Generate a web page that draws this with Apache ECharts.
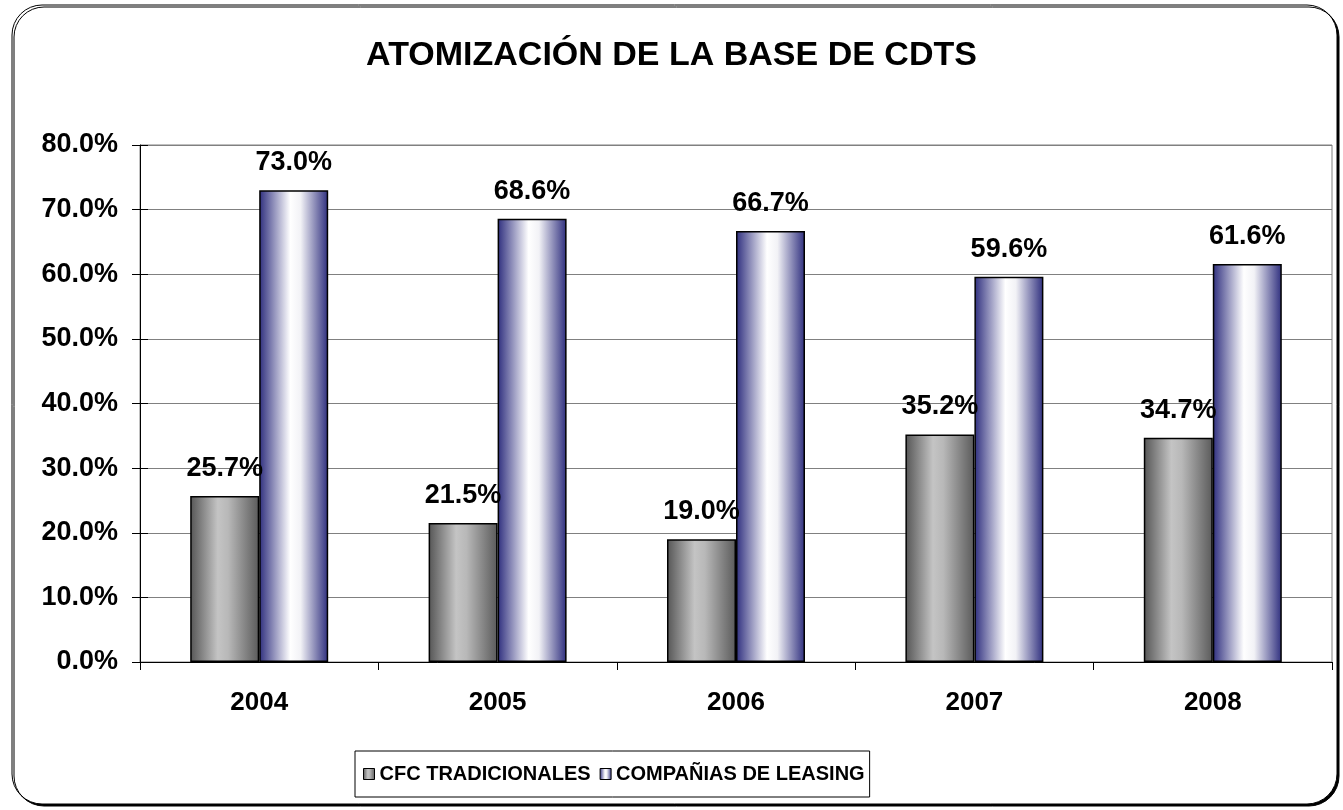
<!DOCTYPE html>
<html>
<head>
<meta charset="utf-8">
<script src="https://cdn.jsdelivr.net/npm/echarts@6/dist/echarts.min.js"></script>
<style>html,body{margin:0;padding:0;background:#fff}#c{width:1343px;height:810px}</style>
</head>
<body>
<div id="c"></div>
<script>
const categories = ['2004', '2005', '2006', '2007', '2008'];
const cfcTradicionales = [25.7, 21.5, 19.0, 35.2, 34.7];
const companiasLeasing = [73.0, 68.6, 66.7, 59.6, 61.6];
const seriesNames = ['CFC TRADICIONALES', 'COMPAÑIAS DE LEASING'];
const titleText = 'ATOMIZACIÓN DE LA BASE DE CDTS';

const FONT = '"Liberation Sans", Arial, sans-serif';
const chart = echarts.init(document.getElementById('c'));

const grayGrad = new echarts.graphic.LinearGradient(0, 0, 1, 0, [
  {offset: 0, color: '#555555'},
  {offset: 0.4, color: '#c4c4c4'},
  {offset: 0.55, color: '#b8b8b8'},
  {offset: 1, color: '#5a5a5a'}
]);
const blueGrad = new echarts.graphic.LinearGradient(0, 0, 1, 0, [
  {offset: 0, color: '#2e2e7e'},
  {offset: 0.45, color: '#ffffff'},
  {offset: 0.6, color: '#f2f2f6'},
  {offset: 1, color: '#2e2e7e'}
]);

const labelStyle = {
  show: true, position: 'top', distance: 14,
  fontFamily: FONT, fontWeight: 'bold', fontSize: 27, color: '#000',
  formatter: p => p.value.toFixed(1) + '%'
};

chart.setOption({
  animation: false,
  backgroundColor: '#fff',
  title: {
    text: titleText, left: 'center', top: 34,
    textStyle: {fontFamily: FONT, fontWeight: 'bold', fontSize: 34, color: '#000'}
  },
  graphic: [{
    type: 'rect', z: -1, silent: true,
    shape: {x: 12, y: 5, width: 1325, height: 799, r: 30},
    style: {fill: '#fff', stroke: '#000', lineWidth: 1, shadowColor: '#000', shadowOffsetX: 2, shadowOffsetY: 2, shadowBlur: 0}
  }],
  legend: {
    left: 355, top: 751,
    data: seriesNames,
    icon: 'rect',
    itemWidth: 11, itemHeight: 11, itemGap: 9,
    padding: [13, 5, 13, 8],
    borderColor: '#000', borderWidth: 1, backgroundColor: '#fff',
    textStyle: {fontFamily: FONT, fontWeight: 'bold', fontSize: 20, color: '#000'},
    itemStyle: {borderColor: '#000', borderWidth: 1}
  },
  grid: {
    left: 140, right: 11, top: 145, bottom: 148,
    show: true, borderColor: '#808080', borderWidth: 1
  },
  xAxis: {
    type: 'category', data: categories,
    axisLine: {lineStyle: {color: '#000', width: 1}},
    axisTick: {show: true, length: 8, lineStyle: {color: '#000'}},
    axisLabel: {margin: 28, fontFamily: FONT, fontWeight: 'bold', fontSize: 26, color: '#000'}
  },
  yAxis: [{
    type: 'value', min: 0, max: 80, interval: 10, position: 'left',
    axisLine: {show: true, lineStyle: {color: '#000', width: 1}},
    axisTick: {show: true, length: 8, lineStyle: {color: '#000'}},
    splitLine: {lineStyle: {color: '#808080', width: 1}},
    axisLabel: {margin: 22, fontFamily: FONT, fontWeight: 'bold', fontSize: 27, color: '#000',
      formatter: v => v.toFixed(1) + '%'}
  }, {
    type: 'value', min: 0, max: 80, interval: 10, position: 'left',
    axisLine: {show: false},
    axisTick: {show: true, inside: true, length: 8, lineStyle: {color: '#000'}},
    splitLine: {show: false},
    axisLabel: {show: false}
  }],
  series: [{
    name: seriesNames[0], type: 'bar', data: cfcTradicionales,
    barWidth: 69, barGap: '0%',
    itemStyle: {color: grayGrad, borderColor: '#000', borderWidth: 1.5},
    label: labelStyle
  }, {
    name: seriesNames[1], type: 'bar', data: companiasLeasing,
    barWidth: 69, barGap: '0%',
    itemStyle: {color: blueGrad, borderColor: '#000', borderWidth: 1.5},
    label: labelStyle
  }]
});
</script>
</body>
</html>
